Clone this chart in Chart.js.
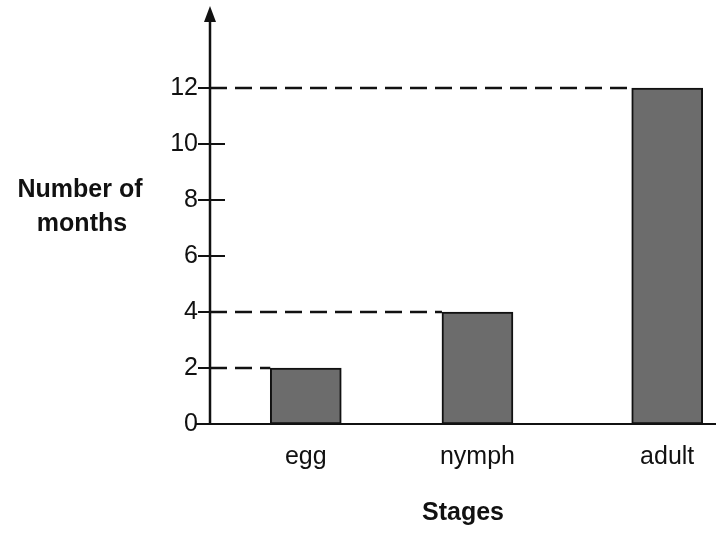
<!DOCTYPE html>
<html>
<head>
<meta charset="utf-8">
<script src="https://cdn.jsdelivr.net/npm/chart.js@4.4.1/dist/chart.umd.min.js"></script>
<style>
  html, body { margin: 0; padding: 0; background: #fff; }
  #wrap { width: 716px; height: 535px; }
</style>
</head>
<body>
<div id="wrap"><canvas id="chart"></canvas></div>
<script>
// data
const stages = ["egg", "nymph", "adult"];
const months = [2, 4, 12];
const yTicks = [0, 2, 4, 6, 8, 10, 12];
// x position of each stage on a linear axis (the printed bars are not evenly spaced)
const stagePos = [0, 0.95, 2];

Chart.defaults.font.family = "'Liberation Sans', Arial, sans-serif";
Chart.defaults.color = "#111";

// axis with arrow, crossing tick marks, dashed guides to bar tops, y title
const axisPlugin = {
  id: 'axisPlugin',
  afterDatasetsDraw(chart) {
    const { ctx, chartArea: { left, right, top, bottom }, scales: { x, y } } = chart;
    const ax = left;
    ctx.save();
    ctx.strokeStyle = '#111';
    ctx.fillStyle = '#111';

    // dashed lines from axis to the left edge of each bar
    const bars = chart.getDatasetMeta(0).data;
    ctx.lineWidth = 2.5;
    ctx.setLineDash([17, 8]);
    bars.forEach((bar, i) => {
      const yy = y.getPixelForValue(months[i]);
      ctx.beginPath();
      ctx.moveTo(ax, yy);
      ctx.lineTo(bar.x - bar.width / 2, yy);
      ctx.stroke();
    });
    ctx.setLineDash([]);

    // x axis line
    ctx.lineWidth = 2;
    ctx.beginPath();
    ctx.moveTo(ax - 14, bottom);
    ctx.lineTo(right, bottom);
    ctx.stroke();

    // y axis line with arrow
    ctx.lineWidth = 2.5;
    ctx.beginPath();
    ctx.moveTo(ax, bottom);
    ctx.lineTo(ax, top + 14);
    ctx.stroke();
    ctx.beginPath();
    ctx.moveTo(ax, top + 2);
    ctx.lineTo(ax - 6, top + 18);
    ctx.lineTo(ax + 6, top + 18);
    ctx.closePath();
    ctx.fill();

    // tick marks across the axis
    ctx.lineWidth = 2;
    yTicks.forEach(v => {
      if (v === 0) return;
      const yy = y.getPixelForValue(v);
      ctx.beginPath();
      ctx.moveTo(ax - 12, yy);
      ctx.lineTo(ax + 15, yy);
      ctx.stroke();
    });

    // horizontal y axis title
    ctx.font = "bold 25px 'Liberation Sans', Arial, sans-serif";
    ctx.textAlign = 'center';
    ctx.textBaseline = 'alphabetic';
    ctx.fillText('Number of', 80, 197);
    ctx.fillText('months', 82, 231);
    ctx.restore();
  }
};

new Chart(document.getElementById('chart'), {
  type: 'bar',
  data: {
    datasets: [{
      data: months.map((m, i) => ({ x: stagePos[i], y: m })),
      backgroundColor: '#6c6c6c',
      borderColor: '#111',
      borderWidth: 2,
      borderSkipped: false,
      barThickness: 71
    }]
  },
  plugins: [axisPlugin],
  options: {
    responsive: true,
    maintainAspectRatio: false,
    animation: false,
    layout: { padding: { top: 4, left: 0, right: 0, bottom: 0 } },
    plugins: {
      legend: { display: false },
      tooltip: { enabled: false }
    },
    scales: {
      x: {
        type: 'linear',
        offset: false,
        min: -0.53,
        max: 2.27,
        border: { display: false },
        grid: { display: false, drawTicks: false },
        afterBuildTicks: (scale) => {
          scale.ticks = stagePos.map(v => ({ value: v }));
        },
        ticks: {
          padding: 18,
          font: { size: 25 },
          callback: (v) => {
            const i = stagePos.indexOf(v);
            return i >= 0 ? stages[i] : '';
          }
        },
        title: {
          display: true,
          text: 'Stages',
          font: { size: 25, weight: 'bold' },
          padding: { top: 0, bottom: 7 }
        },
        afterFit: (scale) => {
          scale.height = 111;
          scale.paddingLeft = 0;
          scale.paddingRight = 0;
        }
      },
      y: {
        min: 0,
        max: 15,
        border: { display: false },
        grid: { display: false, drawTicks: false },
        afterBuildTicks: (scale) => {
          scale.ticks = yTicks.map(v => ({ value: v }));
        },
        ticks: {
          padding: 12,
          font: { size: 25 }
        },
        afterFit: (scale) => {
          scale.width = 210;
          scale.paddingTop = 0;
          scale.paddingBottom = 0;
        }
      }
    }
  }
});
</script>
</body>
</html>
